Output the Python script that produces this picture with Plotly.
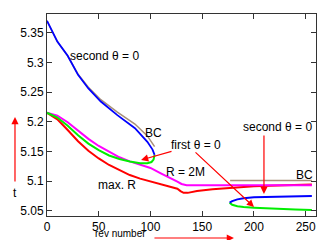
import plotly.graph_objects as go

# ---- data ----
rev_bc_left = [0, 10, 20, 30, 40, 52, 68, 85, 97, 104]
t_bc_left = [5.370, 5.335, 5.311, 5.280, 5.258, 5.237, 5.216, 5.196, 5.176, 5.158]

rev_blue_left = [0, 10, 20, 30, 40, 52, 68, 85, 97, 102, 104]
t_blue_left = [5.370, 5.335, 5.311, 5.279, 5.256, 5.234, 5.211, 5.189, 5.166, 5.153, 5.144]

rev_green_left = [0, 10, 20, 30, 40, 50, 60, 70, 80, 90, 97, 101, 103, 104]
t_green_left = [5.215, 5.207, 5.193, 5.177, 5.163, 5.152, 5.143, 5.137, 5.133, 5.130, 5.130, 5.132, 5.136, 5.144]

rev_magenta = [0, 10, 20, 30, 40, 50, 60, 70, 80, 90, 100, 110, 120, 126, 130, 135, 256]
t_magenta = [5.215, 5.210, 5.199, 5.185, 5.171, 5.159, 5.149, 5.140, 5.133, 5.127, 5.122, 5.113, 5.105, 5.099, 5.095, 5.093, 5.093]

rev_red = [0, 10, 20, 30, 40, 50, 60, 70, 80, 90, 100, 110, 120, 126, 129, 132, 136, 145, 160, 180, 200, 230, 256]
t_red = [5.215, 5.204, 5.186, 5.167, 5.151, 5.138, 5.127, 5.118, 5.110, 5.104, 5.099, 5.095, 5.090, 5.087, 5.083, 5.080, 5.080, 5.083, 5.086, 5.089, 5.091, 5.093, 5.094]

rev_bc_right = [177, 256]
t_bc_right = [5.101, 5.101]

rev_blue_right = [256, 230, 200, 190, 184, 179, 176.5]
t_blue_right = [5.0748, 5.0740, 5.0726, 5.071, 5.069, 5.066, 5.0635]

rev_green_right = [176.5, 179, 184, 190, 200, 220, 240, 256]
t_green_right = [5.0635, 5.060, 5.0575, 5.056, 5.055, 5.053, 5.052, 5.0512]

x_ticks = [0, 50, 100, 150, 200, 250]
y_ticks = [5.05, 5.1, 5.15, 5.2, 5.25, 5.3, 5.35]
y_tick_labels = ["5.05", "5.1", "5.15", "5.2", "5.25", "5.3", "5.35"]

TAN = "#a89078"
FONT = dict(family="Liberation Sans, Arial, sans-serif", size=12, color="black")

fig = go.Figure()

def line(x, y, color, width):
    fig.add_trace(go.Scatter(x=x, y=y, mode="lines", line=dict(color=color, width=width),
                             showlegend=False, hoverinfo="skip"))

line(rev_red, t_red, "#ff0000", 2)
line(rev_magenta, t_magenta, "#ff00ff", 2)
line(rev_green_left, t_green_left, "#00ee00", 2)
line(rev_green_right, t_green_right, "#00ee00", 2)
line(rev_bc_left, t_bc_left, TAN, 1.5)
line(rev_bc_right, t_bc_right, TAN, 1.5)
line(rev_blue_left, t_blue_left, "#0000ff", 1.8)
line(rev_blue_right, t_blue_right, "#0000ff", 2)

ann = []
def text(x, y, s, xanchor="center", xref="x", yref="y", size=12):
    ann.append(dict(x=x, y=y, text=s, showarrow=False, xanchor=xanchor, yanchor="middle",
                    xref=xref, yref=yref, font=dict(FONT, size=size)))

def arrow(x, y, ax, ay):
    ann.append(dict(x=x, y=y, ax=ax, ay=ay, xref="x", yref="y", axref="x", ayref="y",
                    text="", showarrow=True, arrowhead=2, arrowsize=1.2, arrowwidth=1.2,
                    arrowcolor="#ff0000"))

text(20.3, 5.3107, "second θ = 0", xanchor="left")
text(103.4, 5.1809, "BC")
text(144, 5.1607, "first θ = 0")
arrow(90.9, 5.1354, 121.8, 5.1506)
arrow(200.1, 5.0561, 142.1, 5.1506)
text(222.3, 5.1910, "second θ = 0")
arrow(209.7, 5.0781, 209.7, 5.1792)
text(248.4, 5.1101, "BC")
text(133.4, 5.1152, "R = 2M")
text(67.7, 5.0932, "max. R")

# axis labels with arrows (outside plot)
text(-0.119, 0.114, "t", xref="paper", yref="paper")
ann.append(dict(x=-0.119, y=0.49, xref="paper", yref="paper", ax=0, ay=66, axref="pixel", ayref="pixel",
                text="", showarrow=True, arrowhead=2, arrowsize=1.2, arrowwidth=1.2, arrowcolor="#ff0000"))
ann.append(dict(x=0.275, y=-0.1188, text="rev number", showarrow=False, xanchor="center", yanchor="bottom",
                xref="paper", yref="paper", font=dict(FONT, size=10), borderpad=0))
ann.append(dict(x=0.695, y=-0.109, xref="paper", yref="paper", ax=-81, ay=0, axref="pixel", ayref="pixel",
                text="", showarrow=True, arrowhead=2, arrowsize=1.2, arrowwidth=1.2, arrowcolor="#ff0000"))

axis_common = dict(showline=True, linecolor="#333333", linewidth=1, mirror="allticks",
                   ticks="inside", ticklen=5, tickcolor="#333333", showgrid=False, zeroline=False,
                   tickfont=FONT, automargin=False)

# the page body adds an 8px offset, so the figure is sized to fill the rest of the window
fig.update_layout(
    width=328, height=232,
    margin=dict(l=39, r=20, t=6, b=24),
    paper_bgcolor="white", plot_bgcolor="white",
    annotations=ann,
    xaxis=dict(range=[0, 260], tickvals=x_ticks, **axis_common),
    yaxis=dict(range=[5.041, 5.3815], tickvals=y_ticks, ticktext=y_tick_labels, **axis_common),
)

fig.write_html("out.html")
